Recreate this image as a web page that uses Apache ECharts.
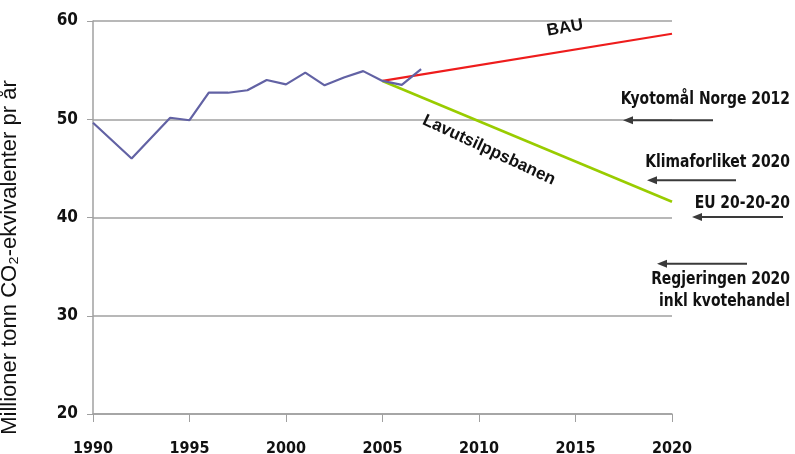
<!DOCTYPE html>
<html>
<head>
<meta charset="utf-8">
<script src="https://cdn.jsdelivr.net/npm/echarts@6/dist/echarts.min.js"></script>
<style>
  html, body { margin: 0; padding: 0; background: #fff; }
  #chart { width: 795px; height: 454px; }
</style>
</head>
<body>
<div id="chart"></div>
<script>
// historiske utslipp (lest av bildet)
const histYears = [1990, 1992, 1994, 1995, 1996, 1997, 1998, 1999, 2000, 2001, 2002, 2003, 2004, 2005, 2006, 2007]
const histValues = [49.65, 46.0, 50.15, 49.9, 52.7, 52.7, 52.95, 54.0, 53.55, 54.75, 53.45, 54.25, 54.9, 53.9, 53.5, 55.1]
// fremskrivinger
const bauYears = [2005, 2020]
const bauValues = [53.9, 58.7]
const lavYears = [2005, 2020]
const lavValues = [53.9, 41.6]
// målnivåer som pilene peker på
const targetNames = ['Kyotomål Norge 2012', 'Klimaforliket 2020', 'EU 20-20-20', 'Regjeringen 2020\ninkl kvotehandel']
const targetValues = [49.9, 43.8, 40.05, 35.3]
const yTicks = [20, 30, 40, 50, 60]
const xTicks = [1990, 1995, 2000, 2005, 2010, 2015, 2020]

const pairs = (xs, ys) => xs.map((x, i) => [x, ys[i]])
const narrow = "'DejaVu Sans Condensed', sans-serif"
const arial = "'Liberation Sans', Arial, sans-serif"

const chart = echarts.init(document.getElementById('chart'))
chart.setOption({
  animation: false,
  grid: { left: 93, right: 123, top: 21, bottom: 40, containLabel: false, outerBoundsMode: 'none' },
  xAxis: {
    type: 'value',
    min: xTicks[0],
    max: xTicks[xTicks.length - 1],
    interval: 5,
    axisLine: { show: true, lineStyle: { color: '#a0a0a0', width: 1.5 } },
    axisTick: { show: true, inside: false, length: 8, lineStyle: { color: '#a0a0a0' } },
    axisLabel: {
      margin: 27, color: '#111', fontFamily: narrow, fontWeight: 'bold', fontSize: 16,
      formatter: (v) => String(v)
    },
    splitLine: { show: false }
  },
  yAxis: {
    type: 'value',
    min: yTicks[0],
    max: yTicks[yTicks.length - 1],
    interval: 10,
    name: 'Millioner tonn CO₂-ekvivalenter pr år',
    nameLocation: 'middle',
    nameRotate: 90,
    nameGap: 72,
    nameTextStyle: { color: '#111', fontSize: 22, fontFamily: arial, padding: [0, 80, 0, 0] },
    axisLine: { show: true, lineStyle: { color: '#a0a0a0', width: 1.5 } },
    axisTick: { show: true, length: 6, lineStyle: { color: '#a0a0a0' } },
    axisLabel: { margin: 15, color: '#111', fontFamily: narrow, fontWeight: 'bold', fontSize: 17 },
    splitLine: { show: true, lineStyle: { color: '#a0a0a0', width: 1.5 } }
  },
  series: [
    {
      name: 'Historisk',
      type: 'line',
      data: pairs(histYears, histValues),
      symbol: 'none',
      z: 4,
      lineStyle: { color: '#6262a4', width: 2.2 }
    },
    {
      name: 'BAU',
      type: 'line',
      data: pairs(bauYears, bauValues),
      symbol: 'none',
      z: 3,
      lineStyle: { color: '#ee1c1c', width: 2.2 }
    },
    {
      name: 'Lavutslippsbanen',
      type: 'line',
      data: pairs(lavYears, lavValues),
      symbol: 'none',
      z: 3,
      lineStyle: { color: '#99cc00', width: 2.6 }
    }
  ]
})

// piler og tekster til høyre
const arrowX = [[713, 623], [736, 647], [783, 692], [747, 657]]
const labelY = [99, 162, 203, 268]
const elements = []
targetValues.forEach((v, i) => {
  const y = chart.convertToPixel({ yAxisIndex: 0 }, v)
  const [x1, x2] = arrowX[i]
  const multi = targetNames[i].indexOf('\n') >= 0
  elements.push({
    type: 'line',
    shape: { x1: x1, y1: y, x2: x2 + 8, y2: y },
    style: { stroke: '#3a3a3a', lineWidth: 2 },
    z: 10
  })
  elements.push({
    type: 'polygon',
    shape: { points: [[x2, y], [x2 + 10, y - 4], [x2 + 10, y + 4]] },
    style: { fill: '#3a3a3a' },
    z: 10
  })
  elements.push({
    type: 'text',
    x: 790,
    y: labelY[i],
    scaleX: 0.86,
    z: 10,
    style: {
      text: targetNames[i],
      align: 'right',
      verticalAlign: multi ? 'top' : 'middle',
      fill: '#111',
      font: 'bold 18px ' + narrow,
      lineHeight: 22
    }
  })
})
elements.push({
  type: 'text', x: 565, y: 28, rotation: 10 * Math.PI / 180, z: 10,
  style: { text: 'BAU', align: 'center', verticalAlign: 'middle', fill: '#111', font: 'bold 17px ' + arial }
})
elements.push({
  type: 'text', x: 489, y: 150, rotation: -25 * Math.PI / 180, z: 10,
  style: { text: 'Lavutsilppsbanen', align: 'center', verticalAlign: 'middle', fill: '#111', font: 'bold 17px ' + arial }
})
chart.setOption({ graphic: { elements: elements } })
</script>
</body>
</html>
